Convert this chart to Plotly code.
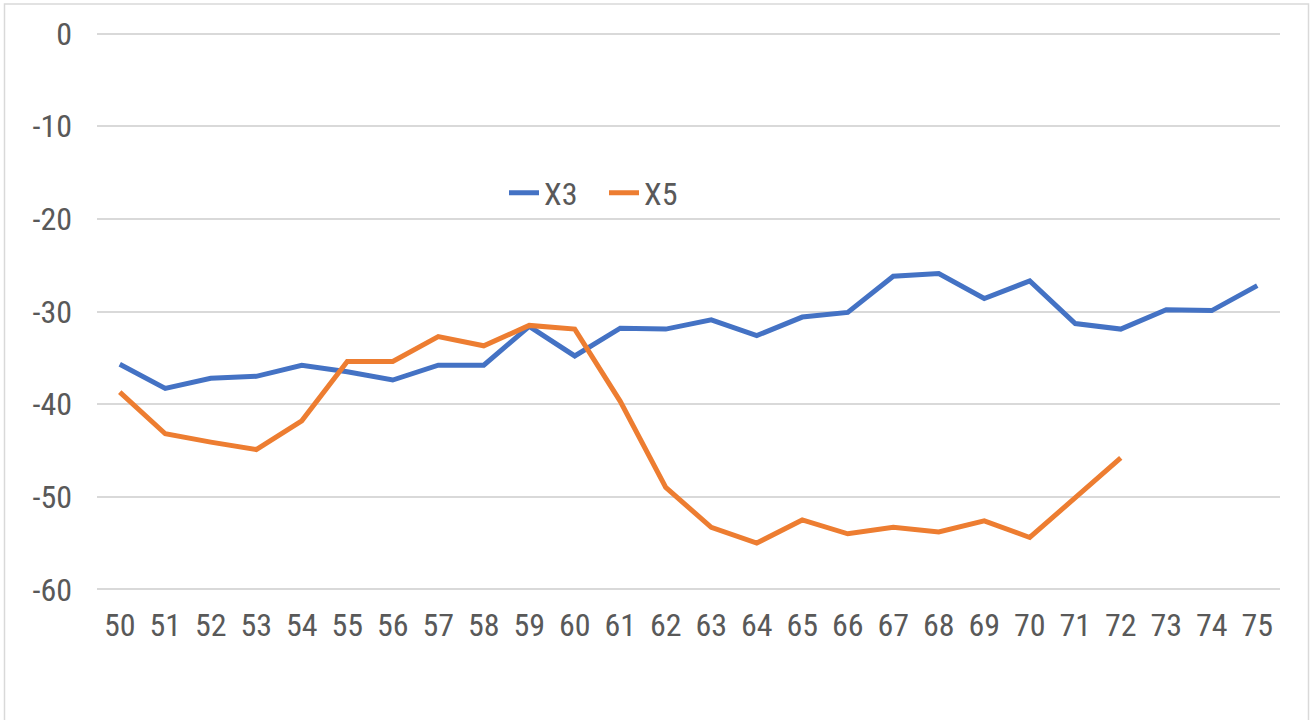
import plotly.graph_objects as go

categories = [str(v) for v in range(50, 76)]
x3_values = [-35.7, -38.3, -37.2, -37.0, -35.8, -36.5, -37.4, -35.8, -35.8, -31.6,
             -34.8, -31.8, -31.9, -30.9, -32.6, -30.6, -30.1, -26.2, -25.9, -28.6,
             -26.7, -31.3, -31.9, -29.8, -29.9, -27.2]
x5_values = [-38.7, -43.2, -44.1, -44.9, -41.8, -35.4, -35.4, -32.7, -33.7, -31.5,
             -31.9, -39.7, -49.0, -53.3, -55.0, -52.5, -54.0, -53.3, -53.8, -52.6,
             -54.4, -50.1, -45.8]
y_ticks = [0, -10, -20, -30, -40, -50, -60]
y_tick_labels = ["0", "-10", "-20", "-30", "-40", "-50", "-60"]

FONT = "Liberation Sans Narrow, Roboto Condensed, Liberation Sans, sans-serif"
GRAY = "#595959"

fig = go.Figure()
fig.add_trace(go.Scatter(x=categories, y=x3_values, mode="lines", name="X3",
                         line=dict(color="#4472C4", width=5)))
fig.add_trace(go.Scatter(x=categories[:len(x5_values)], y=x5_values, mode="lines", name="X5",
                         line=dict(color="#ED7D31", width=5)))

W, H = 1312, 720
PAD = 0.5
scale = (589 - 34) / 60.0
L, R = 97, 1280
T = 34 - PAD * scale
B = 589 + PAD * scale
pw, ph = R - L, B - T

def px(xp):
    return (xp - L) / pw

def py(yp):
    return (B - yp) / ph

fig.update_layout(
    width=W, height=H,
    margin=dict(l=L, r=W - R, t=T, b=H - B, pad=0, autoexpand=False),
    paper_bgcolor="white", plot_bgcolor="white",
    font=dict(family=FONT, size=32, color=GRAY),
    showlegend=True,
    legend=dict(orientation="h", x=px(604), y=py(193), xanchor="center", yanchor="middle",
                font=dict(family=FONT, size=32, color=GRAY), bgcolor="rgba(0,0,0,0)",
                entrywidth=55, itemclick=False, tracegroupgap=0),
    xaxis=dict(type="category", categoryorder="array", categoryarray=categories,
               range=[-0.5, len(categories) - 0.5], showgrid=False, zeroline=False,
               showline=False, ticks="", ticklabelstandoff=int(round(14 - PAD * scale)),
               tickfont=dict(family=FONT, size=32, color=GRAY)),
    yaxis=dict(range=[-60 - PAD, 0 + PAD], tickvals=y_ticks, ticktext=y_tick_labels,
               showgrid=True, gridcolor="#D9D9D9",
               gridwidth=1.5, zeroline=False, showline=False, ticks="",
               ticklabelstandoff=24, tickfont=dict(family=FONT, size=32, color=GRAY)),
    shapes=[dict(type="rect", xref="paper", yref="paper",
                 x0=px(4.5), x1=px(1308.5), y0=py(730), y1=py(4.5),
                 line=dict(color="#D9D9D9", width=1.5), layer="below")],
)

fig.write_html("out.html", config={"displayModeBar": False},
               post_script="document.body.style.margin='0';")
